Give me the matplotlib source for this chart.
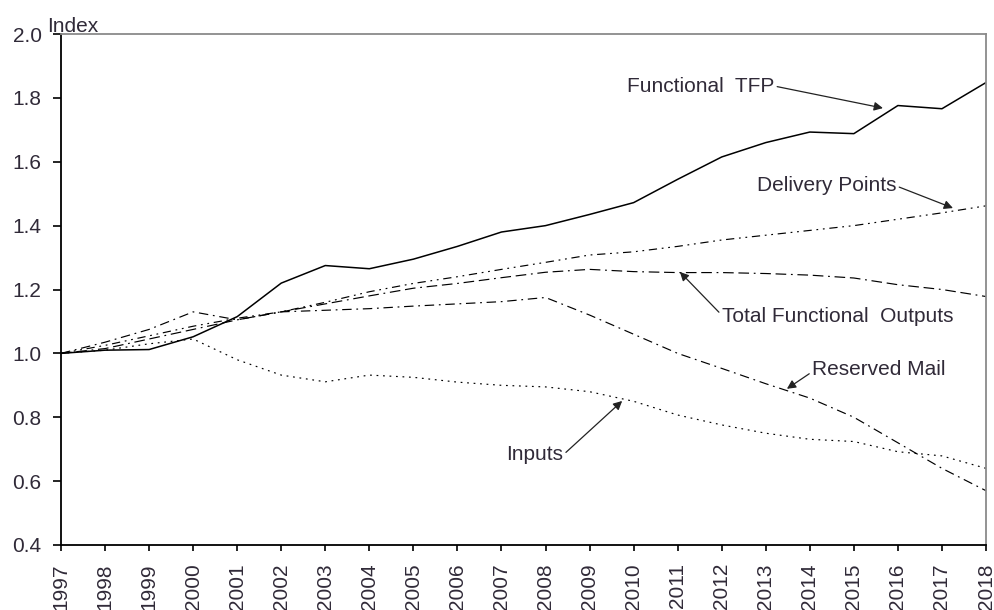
import matplotlib
matplotlib.use("Agg")
import matplotlib.pyplot as plt

plt.rcParams['font.family'] = ['Liberation Sans', 'DejaVu Sans']

years = list(range(1997, 2019))
functional_tfp = [1.00, 1.01, 1.012, 1.052, 1.115, 1.22, 1.275, 1.265, 1.295, 1.335, 1.38, 1.40,
                  1.435, 1.472, 1.545, 1.615, 1.66, 1.693, 1.688, 1.776, 1.766, 1.848]
delivery_points = [1.00, 1.025, 1.055, 1.085, 1.11, 1.13, 1.16, 1.193, 1.219, 1.24, 1.263, 1.285,
                   1.308, 1.318, 1.335, 1.355, 1.37, 1.385, 1.40, 1.42, 1.44, 1.462]
total_outputs = [1.00, 1.015, 1.045, 1.075, 1.105, 1.13, 1.155, 1.18, 1.204, 1.219, 1.237, 1.254,
                 1.263, 1.256, 1.253, 1.253, 1.25, 1.245, 1.236, 1.215, 1.20, 1.178]
reserved_mail = [1.00, 1.035, 1.075, 1.13, 1.105, 1.13, 1.135, 1.14, 1.148, 1.155, 1.162, 1.175,
                 1.12, 1.06, 1.00, 0.953, 0.905, 0.86, 0.80, 0.72, 0.64, 0.57]
inputs = [1.00, 1.01, 1.03, 1.045, 0.98, 0.932, 0.911, 0.932, 0.925, 0.91, 0.90, 0.895,
          0.88, 0.85, 0.807, 0.776, 0.75, 0.731, 0.724, 0.692, 0.679, 0.64]
y_ticks = [0.4, 0.6, 0.8, 1.0, 1.2, 1.4, 1.6, 1.8, 2.0]

txt_color = '#302a38'
fs = 15

fig = plt.figure(figsize=(9.94, 6.10), dpi=100)
ax = fig.add_axes([61/994, 1-545/610, (986-61)/994, (545-34)/610])

ax.plot(years, functional_tfp, color='black', lw=1.1, ls='-')
ax.plot(years, delivery_points, color='black', lw=0.85, ls=(0, (7, 4, 1.5, 4, 1.5, 4)))
ax.plot(years, total_outputs, color='black', lw=0.85, ls=(0, (9, 4, 9, 4, 1.5, 4)))
ax.plot(years, reserved_mail, color='black', lw=0.85, ls=(0, (8, 4, 1.5, 4)))
ax.plot(years, inputs, color='black', lw=0.85, ls=(0, (1.5, 4)))

ax.set_xlim(1997, 2018)
ax.set_ylim(0.4, 2.0)
ax.set_xticks(years)
ax.set_xticklabels([str(y) for y in years], rotation=90, fontsize=fs, color=txt_color)
ax.set_yticks(y_ticks)
ax.set_yticklabels([f"{v:.1f}" for v in y_ticks], fontsize=fs, color=txt_color)
ax.tick_params(axis='y', direction='out', length=6, width=1.2, pad=8)
ax.tick_params(axis='x', direction='out', length=4, width=1.2, pad=9)

for s in ['left', 'bottom']:
    ax.spines[s].set_color('black')
    ax.spines[s].set_linewidth(1.3)
for s in ['top', 'right']:
    ax.spines[s].set_color('#8a8a8a')
    ax.spines[s].set_linewidth(1.3)

fig.text(47/994, 1-32/610, 'Index', fontsize=fs, color=txt_color, ha='left', va='baseline')

arrow = dict(arrowstyle='-|>', color='#222222', lw=0.9, mutation_scale=13, shrinkA=0, shrinkB=0)

def ann(label, tip, txt, ha, rel):
    a = dict(arrow)
    a['relpos'] = rel
    ax.annotate(label, xy=tip, xytext=txt, ha=ha, va='center', fontsize=fs,
                color=txt_color, arrowprops=a)

ann('Functional  TFP', (2015.66, 1.768), (2009.85, 1.837), 'left', (1.0, 0.5))
ann('Delivery Points', (2017.25, 1.455), (2012.8, 1.527), 'left', (1.0, 0.45))
ann('Total Functional  Outputs', (2011.05, 1.255), (2012.0, 1.114), 'left', (0.0, 0.6))
ann('Reserved Mail', (2013.48, 0.889), (2014.05, 0.948), 'left', (0.0, 0.4))
ann('Inputs', (2009.74, 0.851), (2008.4, 0.682), 'right', (1.0, 0.5))

fig.savefig('out.png', dpi=100)
